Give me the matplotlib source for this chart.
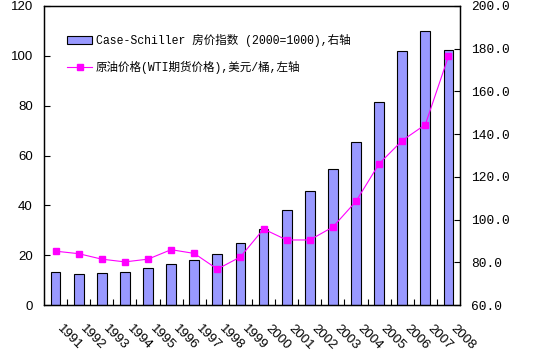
import matplotlib
matplotlib.use('Agg')
import matplotlib.pyplot as plt
import matplotlib.transforms as mtransforms
import numpy as np

years = [str(y) for y in range(1991, 2009)]
# Case-Schiller index (right axis)
house_index = [75.4, 74.5, 74.9, 75.4, 77.3, 79.1, 81.0, 83.8, 88.9, 95.6,
               104.5, 113.4, 123.7, 136.4, 155.2, 178.7, 188.5, 179.4]
# WTI oil price, USD/barrel (left axis)
oil_price = [21.6, 20.6, 18.4, 17.3, 18.4, 22.2, 20.7, 14.4, 19.3, 30.5,
             26.1, 26.1, 31.3, 41.6, 56.7, 66.0, 72.4, 99.8]

bar_label = 'Case-Schiller 房价指数 (2000=1000),右轴'
line_label = '原油价格(WTI期货价格),美元/桶,左轴'

plt.rcParams['font.family'] = ['Liberation Sans', 'Noto Sans CJK SC']

fig = plt.figure(figsize=(5.54, 3.55), dpi=100)
ax = fig.add_axes([44/554, 50/355, 416/554, 299/355])
ax2 = ax.twinx()

x = np.arange(len(years))

bars = ax2.bar(x, house_index, width=0.42, color='#9999FF', edgecolor='black',
               linewidth=0.8, label=bar_label, zorder=2)
ax2.set_ylim(60, 200)
ax2.set_yticks(np.arange(60, 201, 20))
ax2.set_yticklabels([f'{v:.1f}' for v in np.arange(60, 201, 20)],
                    family=['Liberation Mono'], fontsize=9.3)

line, = ax.plot(x, oil_price, color='#FF00FF', lw=0.8, marker='s', ms=3.8,
                label=line_label, zorder=5)
ax.set_zorder(ax2.get_zorder() + 1)
ax.patch.set_visible(False)

ax.set_ylim(0, 120)
ax.set_yticks(np.arange(0, 121, 20))
ax.set_xlim(-0.5, len(years) - 0.5)

ax.tick_params(axis='y', direction='in', length=4, width=0.8, labelsize=9.5, pad=8)
ax2.tick_params(axis='y', direction='in', length=4, width=0.8, pad=8)

ax.set_xticks(x)
ax.set_xticks(np.arange(0.5, len(years) - 1, 1), minor=True)
ax.tick_params(axis='x', which='major', length=0, pad=12)
ax.tick_params(axis='x', which='minor', direction='in', length=4, width=0.8)
ax.set_xticklabels(years, rotation=-45, ha='left', va='top',
                   rotation_mode='anchor', fontsize=9.5)
offset = mtransforms.ScaledTranslation(8/100, -1/100, fig.dpi_scale_trans)
for lbl in ax.get_xticklabels():
    lbl.set_transform(lbl.get_transform() + offset)

for a in (ax, ax2):
    for s in a.spines.values():
        s.set_linewidth(0.9)

leg = ax.legend([bars, line], [bar_label, line_label], loc='upper left',
                bbox_to_anchor=(0.03, 0.94), frameon=False,
                prop={'family': ['Liberation Mono', 'Noto Sans CJK SC'], 'size': 8.3},
                handlelength=2.2, handletextpad=0.3, labelspacing=1.2)

fig.savefig('out.png', dpi=100)
